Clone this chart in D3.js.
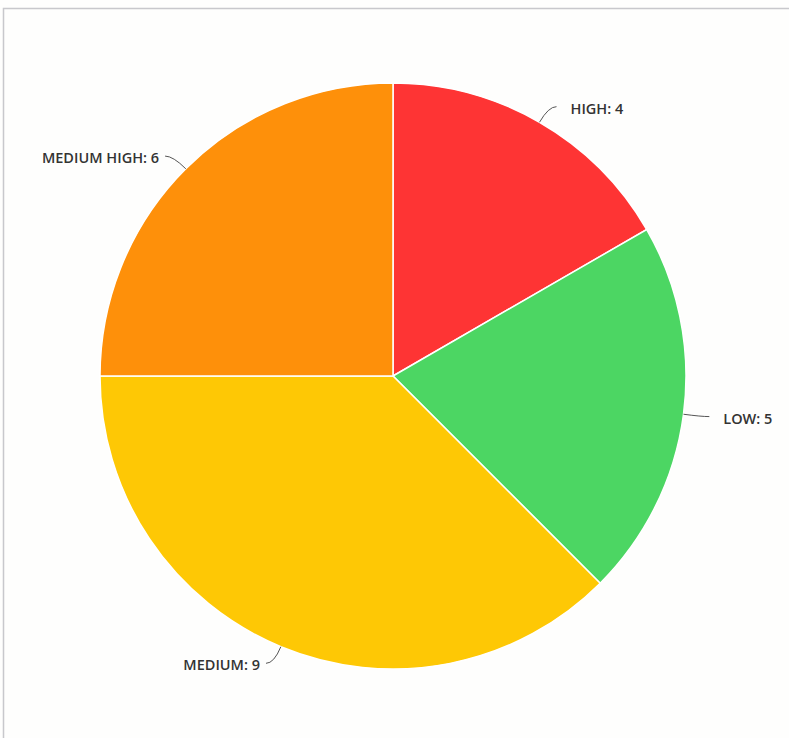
<!DOCTYPE html>
<html>
<head>
<meta charset="utf-8">
<script src="https://cdn.jsdelivr.net/npm/d3@7"></script>
<style>
  body { margin: 0; background: #fefefd; }
  svg { display: block; }
</style>
</head>
<body>
<div id="chart"></div>
<script>
// slice data, clockwise from 12 o'clock
const categories = ["HIGH", "LOW", "MEDIUM", "MEDIUM HIGH"];
const counts = [4, 5, 9, 6];
const colors = ["#fe3434", "#4cd663", "#fec805", "#fe900a"];

const width = 789,
    height = 738,
    cx = 393,
    cy = 376,
    radius = 293;

const data = categories.map((c, i) => ({ category: c, count: counts[i], color: colors[i] }));

const svg = d3.select("#chart")
    .append("svg")
    .attr("width", width)
    .attr("height", height);

// panel frame
svg.append("rect")
    .attr("x", 3.5)
    .attr("y", 8.5)
    .attr("width", width)
    .attr("height", height)
    .attr("fill", "#fefefd")
    .attr("stroke", "#c8c8cc")
    .attr("stroke-width", 1.5);

const arcs = d3.pie()
    .sort(null)
    .value(d => d.count)(data);

const arc = d3.arc().innerRadius(0).outerRadius(radius);

const g = svg.append("g")
    .attr("transform", `translate(${cx},${cy})`);

g.append("g")
    .attr("stroke", "white")
    .attr("stroke-width", 1.5)
    .selectAll("path")
    .data(arcs)
    .join("path")
    .attr("fill", d => d.data.color)
    .attr("d", arc);

// leader lines + labels
const pt = (a, r) => [Math.sin(a) * r, -Math.cos(a) * r];

const labels = arcs.map(d => {
    const mid = (d.startAngle + d.endAngle) / 2;
    const side = Math.sin(mid) >= 0 ? 1 : -1;
    const p0 = pt(mid, radius);
    const p1 = pt(mid, radius + 18);
    const p2 = [p1[0] + side * 8, p1[1]];
    return { d, side, p0, p1, p2 };
});

g.append("g")
    .attr("fill", "none")
    .attr("stroke", "#555")
    .attr("stroke-width", 1)
    .selectAll("path")
    .data(labels)
    .join("path")
    .attr("d", l => `M${l.p0}Q${l.p1} ${l.p2}`);

g.append("g")
    .attr("font-family", "'Open Sans', sans-serif")
    .attr("font-size", 14.5)
    .attr("font-weight", 600)
    .attr("fill", "#333")
    .selectAll("text")
    .data(labels)
    .join("text")
    .attr("x", l => l.p2[0] + l.side * (l.side > 0 ? 14 : 6))
    .attr("y", l => l.p2[1] + 2)
    .attr("dy", "0.35em")
    .attr("text-anchor", l => l.side > 0 ? "start" : "end")
    .text(l => `${l.d.data.category}: ${l.d.data.count}`);
</script>
</body>
</html>
